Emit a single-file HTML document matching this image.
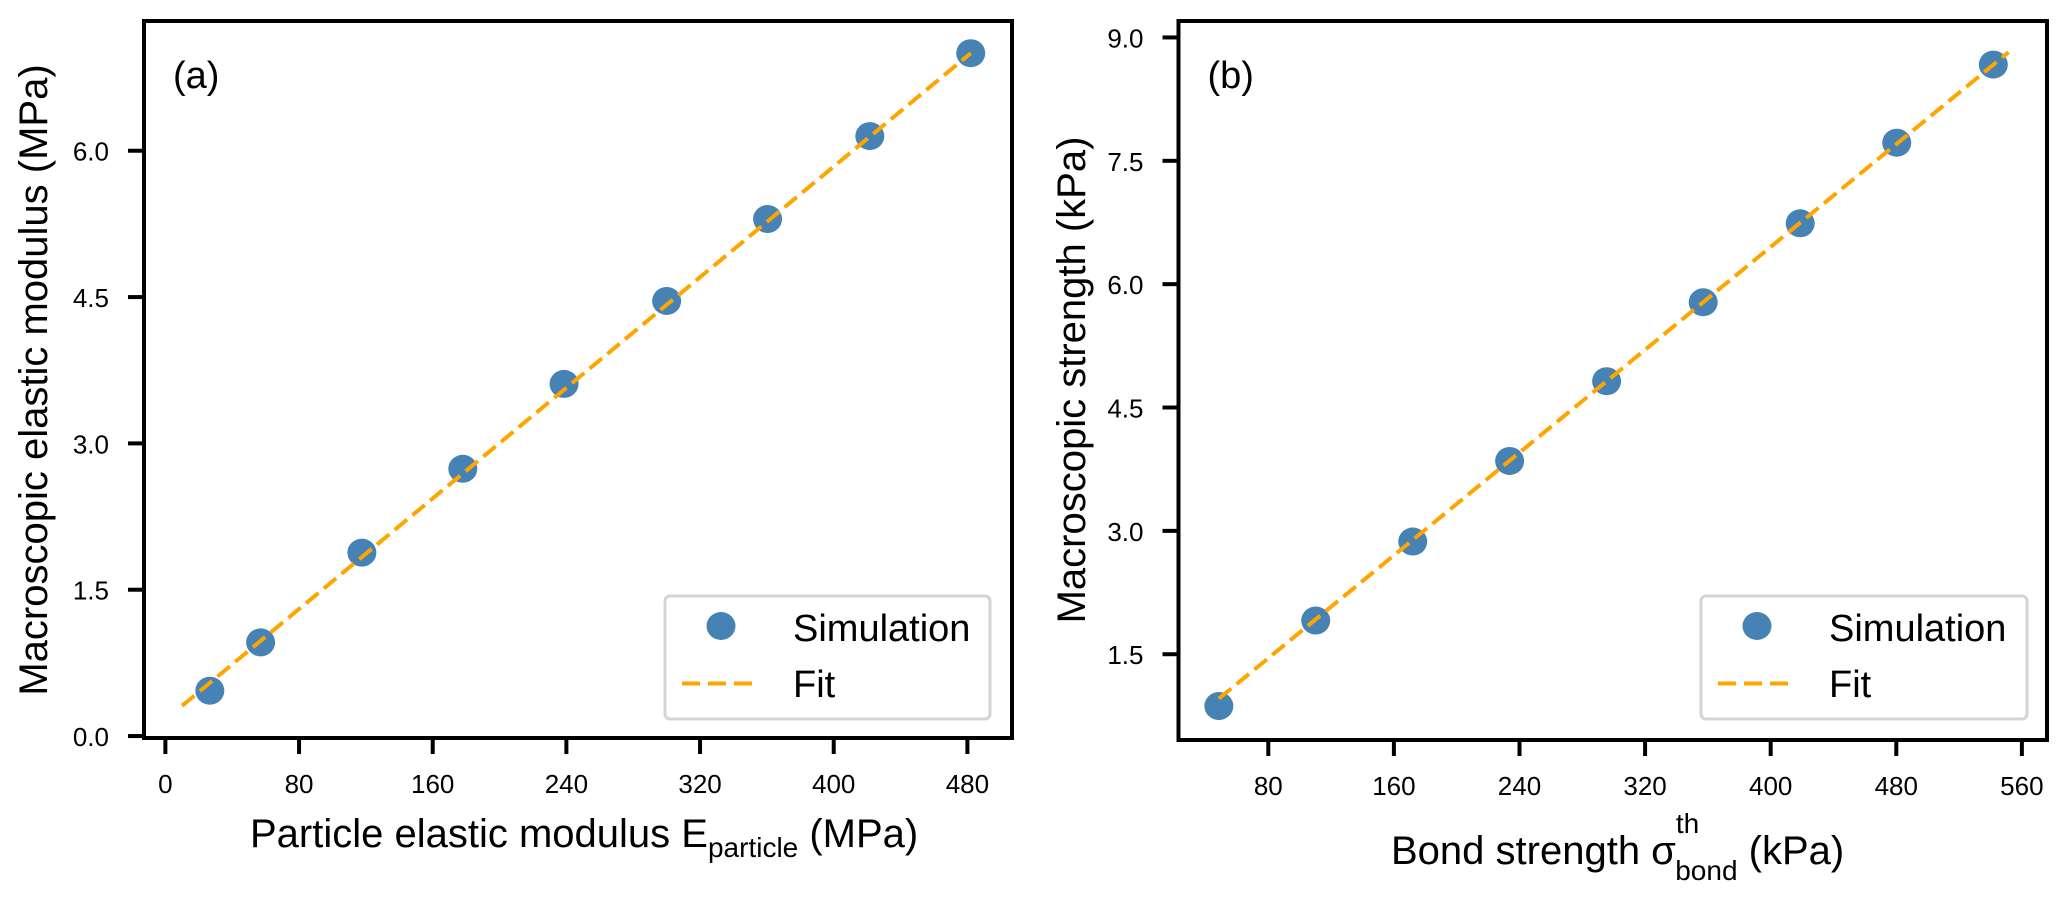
<!DOCTYPE html>
<html><head><meta charset="utf-8"><style>
html,body{margin:0;padding:0;background:#fff;}
svg{display:block;font-family:"Liberation Sans",Arial,sans-serif;}
</style></head><body>
<svg id="fig" width="2067" height="902" viewBox="0 0 2067 902" xmlns="http://www.w3.org/2000/svg"></svg>
<script>
// Panel (a) data
const aX = [26.6, 57, 117.6, 178, 238.6, 300, 360.4, 421.6, 482];
const aY = [0.465, 0.96, 1.88, 2.74, 3.61, 4.46, 5.30, 6.15, 7.0];
const aFitX = [10, 482];
const aFitY = [0.31, 7.0];
const aXTicks = [0, 80, 160, 240, 320, 400, 480];
const aYTicks = [0.0, 1.5, 3.0, 4.5, 6.0];
// Panel (b) data
const bX = [48.5, 110.2, 172, 233.7, 295.5, 357, 418.8, 480.3, 541.8];
const bY = [0.87, 1.91, 2.87, 3.85, 4.82, 5.78, 6.74, 7.72, 8.67];
const bFitX = [48.5, 551.5];
const bFitY = [0.96, 8.82];
const bXTicks = [80, 160, 240, 320, 400, 480, 560];
const bYTicks = [1.5, 3.0, 4.5, 6.0, 7.5, 9.0];

const NS = "http://www.w3.org/2000/svg";
const svg = document.getElementById('fig');
function mk(tag, attrs, parent, text) {
  const e = document.createElementNS(NS, tag);
  for (const k in attrs) e.setAttribute(k, attrs[k]);
  if (text !== undefined) e.textContent = text;
  (parent || svg).appendChild(e);
  return e;
}

function panel(p) {
  const g = mk('g', {});
  
  
  const sx = v => p.L + (v - p.x0) / (p.x1 - p.x0) * (p.R - p.L);
  const sy = v => p.B - (v - p.y0) / (p.y1 - p.y0) * (p.B - p.T);

  p.xt.forEach(t => {
    const x = sx(t);
    const tk = mk('line', {x1: x, x2: x, y1: p.B, y2: p.B + 16, stroke: '#000', 'stroke-width': 4}, g);
    
    
    const lb = mk('text', {x: x, y: p.B + 55, 'font-size': 26, 'text-anchor': 'middle'}, g, String(t));
    
    
  });
  p.yt.forEach(t => {
    const y = sy(t);
    const tk = mk('line', {x1: p.L - 16, x2: p.L, y1: y, y2: y, stroke: '#000', 'stroke-width': 4}, g);
    
    
    const lb = mk('text', {x: p.L - 35, y: y + 10, 'font-size': 26, 'text-anchor': 'end'}, g, t.toFixed(1));
    
    
  });

  p.px.forEach((v, i) => {
    const c = mk('ellipse', {cx: sx(v), cy: sy(p.py[i]), rx: 14.5, ry: 14, fill: '#4682b4'}, g);
    
    
  });
  const fl = mk('line', {x1: sx(p.fx[0]), y1: sy(p.fy[0]), x2: sx(p.fx[1]), y2: sy(p.fy[1]),
    stroke: '#FFA500', 'stroke-width': 4, 'stroke-dasharray': '16 7'}, g);
  
  

  const fr = mk('rect', {x: p.L, y: p.T, width: p.R - p.L, height: p.B - p.T, fill: 'none', stroke: '#000', 'stroke-width': 4}, g);
  
  

  const pl = mk('text', {x: p.L + 29, y: 88, 'font-size': 38}, g, p.tag);
  
  

  const lg = mk('g', {}, g);
  
  
  mk('rect', {x: p.lgx, y: 596, width: p.lgw, height: 123, rx: 5, fill: '#fff', stroke: '#d4d4d4', 'stroke-width': 3}, lg);
  const lm = mk('ellipse', {cx: p.lgx + 56, cy: 626, rx: 14.5, ry: 14, fill: '#4682b4'}, lg);
  
  
  const ll = mk('line', {x1: p.lgx + 17, x2: p.lgx + 95, y1: 683.5, y2: 683.5, stroke: '#FFA500', 'stroke-width': 4, 'stroke-dasharray': '18 8'}, lg);
  
  
  const t1 = mk('text', {x: p.lgx + 128, y: 641, 'font-size': 38}, lg, 'Simulation');
  
  
  const t2 = mk('text', {x: p.lgx + 128, y: 697, 'font-size': 38}, lg, 'Fit');
  
  
  return g;
}

panel({name: 'panel-a', tag: '(a)', L: 144, R: 1012, T: 21, B: 738,
  x0: -12.8, x1: 506.7, y0: -0.02, y1: 7.33,
  xt: aXTicks, yt: aYTicks, px: aX, py: aY, fx: aFitX, fy: aFitY, lgx: 665, lgw: 325});
panel({name: 'panel-b', tag: '(b)', L: 1178.5, R: 2047, T: 21, B: 740,
  x0: 22.8, x1: 576, y0: 0.457, y1: 9.2,
  xt: bXTicks, yt: bYTicks, px: bX, py: bY, fx: bFitX, fy: bFitY, lgx: 1701, lgw: 326});
</script>
<script>
(function(){
  const NS = "http://www.w3.org/2000/svg";
  const svg = document.getElementById('fig');
  function t(html, attrs, name){
    const e = document.createElementNS(NS, 'text');
    for (const k in attrs) e.setAttribute(k, attrs[k]);
    e.innerHTML = html;
    
    
    svg.appendChild(e);
  }
  t('Macroscopic elastic modulus (MPa)', {x: 0, y: 0, 'font-size': 40, 'text-anchor': 'middle', transform: 'translate(47,380) rotate(-90)'}, 'y-axis-title-a');
  t('Particle elastic modulus E<tspan font-size="28" dy="10">particle</tspan><tspan dy="-10"> (MPa)</tspan>', {x: 250, y: 847, 'font-size': 40}, 'x-axis-title-a');
  t('Macroscopic strength (kPa)', {x: 0, y: 0, 'font-size': 40, 'text-anchor': 'middle', transform: 'translate(1085,380) rotate(-90)'}, 'y-axis-title-b');
  t('Bond strength σ<tspan font-size="28" dy="-31">th</tspan><tspan font-size="28" dx="-24" dy="47">bond</tspan><tspan dy="-16"> (kPa)</tspan>', {x: 1391, y: 864, 'font-size': 40}, 'x-axis-title-b');
})();
</script>
</body></html>
